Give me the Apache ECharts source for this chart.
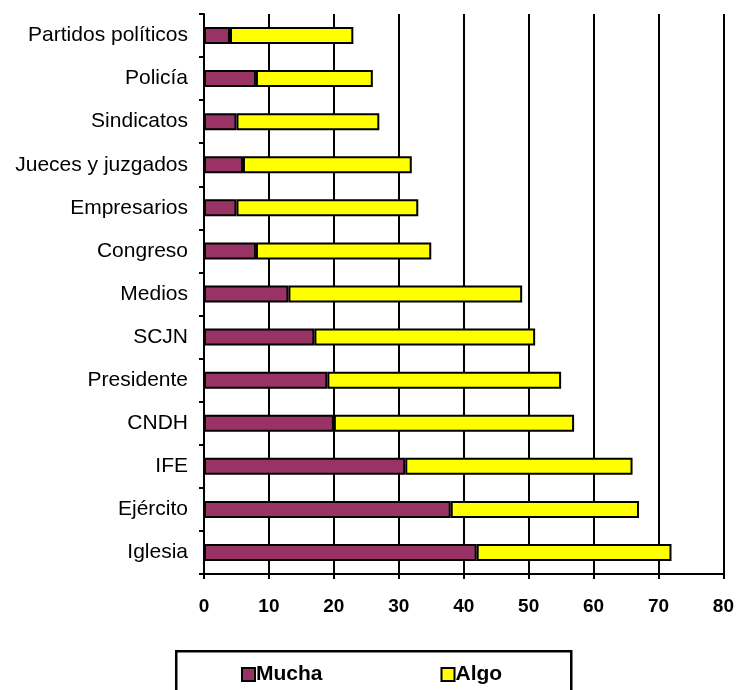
<!DOCTYPE html>
<html>
<head>
<meta charset="utf-8">
<script src="https://cdn.jsdelivr.net/npm/echarts@6/dist/echarts.min.js"></script>
<style>html,body{margin:0;padding:0;background:#fff}#c{width:737px;height:690px}</style>
</head>
<body>
<div id="c"></div>
<script>
var categories = ["Partidos políticos","Policía","Sindicatos","Jueces y juzgados","Empresarios","Congreso","Medios","SCJN","Presidente","CNDH","IFE","Ejército","Iglesia"];
var mucha = [4,8,5,6,5,8,13,17,19,20,31,38,42];
var algo  = [19,18,22,26,28,27,36,34,36,37,35,29,30];
var xTicks = [0,10,20,30,40,50,60,70,80];

var chart = echarts.init(document.getElementById('c'));
var font = 'Arial, "Liberation Sans", sans-serif';
chart.setOption({
  animation: false,
  backgroundColor: '#fff',
  textStyle: {fontFamily: font},
  grid: {left: 204, right: 13, top: 14, bottom: 116, containLabel: false},
  xAxis: {
    type: 'value', min: xTicks[0], max: xTicks[xTicks.length-1], interval: 10,
    axisLine: {show: true, lineStyle: {color: '#000', width: 2}},
    axisTick: {show: true, length: 5, lineStyle: {color: '#000', width: 2}},
    axisLabel: {color: '#000', fontSize: 19, fontWeight: 'bold', margin: 23, fontFamily: font},
    splitLine: {show: true, lineStyle: {color: '#000', width: 2}}
  },
  yAxis: {
    type: 'category', data: categories, inverse: true,
    axisLine: {show: true, lineStyle: {color: '#000', width: 2}},
    axisTick: {show: true, length: 5, alignWithLabel: false, lineStyle: {color: '#000', width: 2}},
    axisLabel: {color: '#000', fontSize: 21, margin: 16, fontFamily: font},
    splitLine: {show: false}
  },
  legend: {
    left: 236, top: 659, itemWidth: 13, itemHeight: 13, itemGap: 118,
    icon: 'rect',
    textStyle: {color: '#000', fontSize: 21, fontWeight: 'bold', fontFamily: font, padding: [0,0,0,-4]},
    data: ['Mucha', 'Algo']
  },
  graphic: [{
    type: 'rect', left: 175, top: 650, z: -1,
    shape: {width: 395, height: 50},
    style: {fill: '#fff', stroke: '#000', lineWidth: 2.5}
  }],
  series: [
    {name: 'Mucha', type: 'bar', stack: 't', data: mucha, barWidth: 17,
     itemStyle: {color: '#993366', borderColor: '#000', borderWidth: 2}},
    {name: 'Algo', type: 'bar', stack: 't', data: algo, barWidth: 17,
     itemStyle: {color: '#FFFF00', borderColor: '#000', borderWidth: 2}}
  ]
});
</script>
</body>
</html>
